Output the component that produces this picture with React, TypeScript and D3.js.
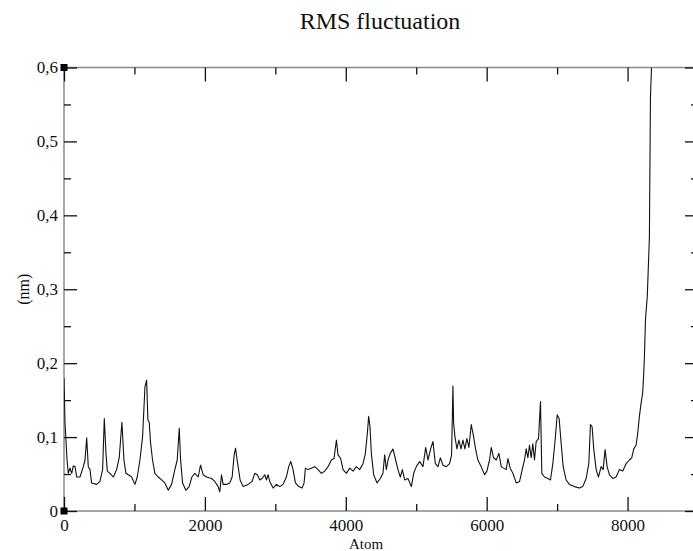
import React from "react";
import * as d3 from "d3";

// RMSF per atom: [atom index, nm]
const rmsfPoints: [number, number][] = [
  [0, 0.18], [14, 0.12], [43, 0.069], [61, 0.051], [85, 0.058], [109, 0.051], [132, 0.061], [156, 0.06],
  [180, 0.046], [227, 0.046], [274, 0.06], [298, 0.069], [322, 0.099], [345, 0.06], [369, 0.056], [392, 0.038],
  [463, 0.036], [510, 0.04], [548, 0.056], [572, 0.125], [596, 0.078], [615, 0.054], [652, 0.051], [700, 0.046],
  [747, 0.056], [785, 0.073], [822, 0.12], [851, 0.069], [879, 0.051], [912, 0.049], [959, 0.046], [1007, 0.036],
  [1040, 0.046], [1078, 0.069], [1116, 0.101], [1149, 0.168], [1173, 0.177], [1191, 0.123], [1210, 0.12], [1229, 0.092],
  [1257, 0.069], [1290, 0.051], [1338, 0.046], [1385, 0.042], [1432, 0.038], [1480, 0.028], [1527, 0.036], [1574, 0.056],
  [1607, 0.069], [1636, 0.112], [1655, 0.069], [1683, 0.038], [1730, 0.028], [1777, 0.033], [1815, 0.046], [1857, 0.051],
  [1905, 0.046], [1938, 0.062], [1976, 0.049], [2023, 0.046], [2094, 0.044], [2141, 0.04], [2188, 0.033], [2212, 0.026],
  [2236, 0.049], [2259, 0.036], [2307, 0.036], [2354, 0.038], [2387, 0.046], [2416, 0.076], [2435, 0.085], [2453, 0.072],
  [2472, 0.06], [2500, 0.042], [2543, 0.033], [2614, 0.036], [2670, 0.04], [2708, 0.051], [2746, 0.049], [2779, 0.042],
  [2812, 0.044], [2850, 0.049], [2874, 0.042], [2897, 0.049], [2921, 0.04], [2968, 0.031], [3016, 0.036], [3063, 0.033],
  [3110, 0.036], [3157, 0.046], [3190, 0.06], [3219, 0.067], [3252, 0.056], [3285, 0.038], [3332, 0.033], [3380, 0.031],
  [3408, 0.038], [3427, 0.058], [3465, 0.056], [3512, 0.058], [3559, 0.06], [3607, 0.056], [3654, 0.051], [3701, 0.054],
  [3748, 0.06], [3796, 0.069], [3833, 0.071], [3867, 0.096], [3890, 0.076], [3928, 0.071], [3961, 0.056], [4009, 0.051],
  [4056, 0.058], [4103, 0.054], [4150, 0.06], [4197, 0.056], [4245, 0.064], [4278, 0.078], [4306, 0.105], [4325, 0.128],
  [4344, 0.114], [4363, 0.078], [4396, 0.049], [4443, 0.038], [4491, 0.044], [4528, 0.051], [4552, 0.076], [4576, 0.056],
  [4599, 0.069], [4632, 0.078], [4670, 0.084], [4708, 0.069], [4741, 0.056], [4774, 0.046], [4803, 0.056], [4836, 0.042],
  [4883, 0.044], [4931, 0.033], [4964, 0.051], [5001, 0.06], [5049, 0.067], [5096, 0.06], [5134, 0.086], [5167, 0.069],
  [5205, 0.084], [5238, 0.094], [5271, 0.064], [5309, 0.06], [5342, 0.072], [5379, 0.062], [5427, 0.06], [5474, 0.064],
  [5502, 0.076], [5521, 0.169], [5531, 0.119], [5549, 0.101], [5578, 0.084], [5606, 0.096], [5635, 0.084], [5663, 0.096],
  [5691, 0.084], [5719, 0.098], [5748, 0.086], [5781, 0.117], [5814, 0.101], [5842, 0.084], [5875, 0.069], [5923, 0.06],
  [5970, 0.049], [6003, 0.054], [6041, 0.069], [6065, 0.086], [6098, 0.072], [6136, 0.069], [6174, 0.078], [6207, 0.06],
  [6240, 0.058], [6278, 0.056], [6302, 0.071], [6334, 0.058], [6372, 0.051], [6419, 0.038], [6467, 0.04], [6505, 0.056],
  [6537, 0.069], [6561, 0.084], [6585, 0.072], [6608, 0.089], [6632, 0.072], [6655, 0.091], [6679, 0.069], [6703, 0.094],
  [6736, 0.098], [6764, 0.148], [6783, 0.051], [6821, 0.046], [6868, 0.044], [6906, 0.042], [6939, 0.064], [6972, 0.096],
  [7001, 0.13], [7029, 0.125], [7057, 0.092], [7086, 0.06], [7128, 0.042], [7175, 0.036], [7246, 0.033], [7317, 0.031],
  [7364, 0.033], [7412, 0.044], [7450, 0.064], [7473, 0.117], [7497, 0.114], [7520, 0.084], [7554, 0.056], [7587, 0.046],
  [7625, 0.06], [7653, 0.056], [7681, 0.083], [7710, 0.06], [7743, 0.049], [7790, 0.044], [7837, 0.046], [7884, 0.056],
  [7932, 0.054], [7979, 0.064], [8026, 0.069], [8059, 0.072], [8088, 0.084], [8121, 0.089], [8144, 0.105], [8168, 0.128],
  [8192, 0.146], [8215, 0.16], [8230, 0.187], [8240, 0.21], [8255, 0.26], [8280, 0.29], [8310, 0.37], [8325, 0.56],
  [8340, 0.6],
];

const xMajorTicks = [0, 2000, 4000, 6000, 8000];
const xMinorTicks = [1000, 3000, 5000, 7000, 9000];
const yMajorTicks = [0, 0.1, 0.2, 0.3, 0.4, 0.5, 0.6];
const yMinorTicks = [0.05, 0.15, 0.25, 0.35, 0.45, 0.55];

const title = "RMS fluctuation";
const xLabel = "Atom";
const yLabel = "(nm)";

const W = 693;
const H = 551;
const margin = { left: 64, right: -5, top: 67.5, bottom: 40 };
const FONT = "Liberation Serif, DejaVu Serif, serif";

const RmsfChart = () => {
  const svgRef = React.useRef<SVGSVGElement>(null);

  React.useEffect(() => {
    const width = W - margin.left - margin.right;
    const height = H - margin.top - margin.bottom;

    const x = d3.scaleLinear().domain([0, 9000]).range([0, width]);
    const y = d3.scaleLinear().domain([0, 0.6]).range([height, 0]);

    const svgEl = d3.select(svgRef.current);
    svgEl.selectAll("*").remove();

    svgEl.append("text")
      .attr("x", margin.left + width / 2 - 1)
      .attr("y", 29)
      .attr("text-anchor", "middle")
      .style("font-family", FONT)
      .style("font-size", "24px")
      .attr("fill", "#111")
      .text(title);

    const svg = svgEl.append("g")
      .attr("transform", `translate(${margin.left},${margin.top})`);

    svg.append("clipPath").attr("id", "plot-clip")
      .append("rect").attr("width", width).attr("height", height);

    // frame
    svg.append("rect")
      .attr("width", width).attr("height", height)
      .attr("fill", "none").attr("stroke", "#8a8a8a").attr("stroke-width", 1.5);

    // data line
    const line = d3.line<[number, number]>()
      .x((d) => x(d[0]))
      .y((d) => y(d[1]));
    svg.append("path")
      .datum(rmsfPoints)
      .attr("clip-path", "url(#plot-clip)")
      .attr("fill", "none")
      .attr("stroke", "#111")
      .attr("stroke-width", 1.1)
      .attr("stroke-linejoin", "round")
      .attr("d", line);

    const styleAxis = (g: any) => {
      g.select(".domain").remove();
      g.selectAll(".tick line").attr("stroke", "#111").attr("stroke-width", 1.3);
      g.selectAll(".tick text")
        .style("font-family", FONT).style("font-size", "17px").attr("fill", "#111");
    };

    // bottom
    svg.append("g").attr("transform", `translate(0,${height})`)
      .call(d3.axisBottom(x).tickValues(xMajorTicks).tickSizeInner(-14).tickSizeOuter(0).tickPadding(8).tickFormat((v) => `${v}`))
      .call(styleAxis);
    svg.append("g").attr("transform", `translate(0,${height})`)
      .call(d3.axisBottom(x).tickValues(xMinorTicks).tickSizeInner(-7).tickSizeOuter(0).tickFormat(() => ""))
      .call(styleAxis);
    // top
    svg.append("g")
      .call(d3.axisTop(x).tickValues(xMajorTicks).tickSizeInner(-14).tickSizeOuter(0).tickFormat(() => ""))
      .call(styleAxis);
    svg.append("g")
      .call(d3.axisTop(x).tickValues(xMinorTicks).tickSizeInner(-7).tickSizeOuter(0).tickFormat(() => ""))
      .call(styleAxis);
    // left
    svg.append("g")
      .call(d3.axisLeft(y).tickValues(yMajorTicks).tickSizeInner(-13).tickSizeOuter(0).tickPadding(6)
        .tickFormat((v) => (+v === 0 ? "0" : d3.format(".1f")(+v).replace(".", ","))))
      .call(styleAxis);
    svg.append("g")
      .call(d3.axisLeft(y).tickValues(yMinorTicks).tickSizeInner(-7).tickSizeOuter(0).tickFormat(() => ""))
      .call(styleAxis);
    // right
    svg.append("g").attr("transform", `translate(${width},0)`)
      .call(d3.axisRight(y).tickValues(yMajorTicks).tickSizeInner(-13).tickSizeOuter(0).tickFormat(() => ""))
      .call(styleAxis);
    svg.append("g").attr("transform", `translate(${width},0)`)
      .call(d3.axisRight(y).tickValues(yMinorTicks).tickSizeInner(-7).tickSizeOuter(0).tickFormat(() => ""))
      .call(styleAxis);

    // corner markers on the left axis
    svg.selectAll(".corner")
      .data([0, 0.6])
      .enter()
      .append("rect")
      .attr("x", x(0) - 3.5)
      .attr("y", (d) => y(d) - 3.5)
      .attr("width", 7)
      .attr("height", 7)
      .attr("fill", "#000");

    // axis titles
    svgEl.append("text")
      .attr("x", 366)
      .attr("y", 549)
      .attr("text-anchor", "middle")
      .style("font-family", FONT)
      .style("font-size", "15px")
      .attr("fill", "#111")
      .text(xLabel);

    svgEl.append("text")
      .attr("transform", `translate(29,${margin.top + height / 2}) rotate(-90)`)
      .attr("text-anchor", "middle")
      .style("font-family", FONT)
      .style("font-size", "16px")
      .attr("fill", "#111")
      .text(yLabel);
  }, []);

  return (
    <svg
      ref={svgRef}
      width={W}
      height={H}
      style={{ position: "absolute", left: 0, top: 0, background: "#fff" }}
    />
  );
};

export default function App() {
  return <RmsfChart />;
}
